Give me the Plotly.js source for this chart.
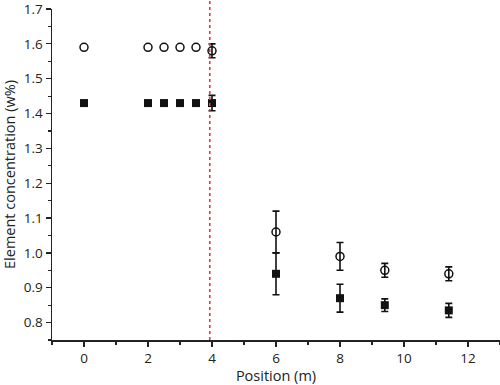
<!DOCTYPE html>
<html><head><meta charset="utf-8">
<script src="https://cdn.plot.ly/plotly-3.0.1.min.js"></script>
<style>html,body{margin:0;padding:0;background:#fff}#chart{width:500px;height:385px}</style>
</head><body><div id="chart"></div>
<script>
const positions = [0, 2, 2.5, 3, 3.5, 4, 6, 8, 9.4, 11.4];
const openValues = [1.59, 1.59, 1.59, 1.59, 1.59, 1.58, 1.06, 0.99, 0.95, 0.94];
const openErrors = [null, null, null, null, null, 0.02, 0.06, 0.04, 0.02, 0.02];
const filledValues = [1.43, 1.43, 1.43, 1.43, 1.43, 1.43, 0.94, 0.87, 0.85, 0.835];
const filledErrors = [null, null, null, null, null, 0.022, 0.06, 0.04, 0.018, 0.02];
const yTicks = [0.8, 0.9, 1.0, 1.1, 1.2, 1.3, 1.4, 1.5, 1.6, 1.7];
const boundaryX = 3.93;

const errStyle = {type:'data', visible:true, color:'#111', thickness:1.6, width:3.5};
function series(vals, errs, marker) {
  const withE = {x:[], y:[], e:[]}, noE = {x:[], y:[]};
  positions.forEach((p, i) => {
    if (errs[i] == null) { noE.x.push(p); noE.y.push(vals[i]); }
    else { withE.x.push(p); withE.y.push(vals[i]); withE.e.push(errs[i]); }
  });
  return [
    {x: noE.x, y: noE.y, type:'scatter', mode:'markers', marker: marker},
    {x: withE.x, y: withE.y, type:'scatter', mode:'markers', marker: marker,
     error_y: Object.assign({array: withE.e}, errStyle)}
  ];
}
const traces = [].concat(
  series(openValues, openErrors, {symbol:'circle-open', size:8, color:'#111', line:{width:1.5, color:'#111'}}),
  series(filledValues, filledErrors, {symbol:'square', size:8, color:'#111'})
);
const fontFam = '"Open Sans", "Noto Sans", sans-serif';
const layout = {
  width:500, height:385, showlegend:false,
  margin:{l:52, r:0, t:9, b:45},
  paper_bgcolor:'#fff', plot_bgcolor:'#fff',
  font:{family:fontFam, size:13.5, color:'#222'},
  xaxis:{range:[-1,13], dtick:2, tick0:0, showgrid:false, zeroline:false,
    showline:true, linecolor:'#222', linewidth:1.5, ticks:'outside', ticklen:5, tickwidth:1.3, tickcolor:'#222',
    minor:{dtick:1, tick0:0, ticks:'outside', ticklen:3, tickwidth:1.2, tickcolor:'#222', showgrid:false},
    title:{text:'Position (m)', font:{size:14.5}, standoff:4}, tickfont:{size:13.5}, ticklabeloverflow:'allow'},
  yaxis:{range:[0.75,1.7], tickmode:'array', tickvals:yTicks, ticktext:yTicks.map(v => v.toFixed(1)),
    showgrid:false, zeroline:false, ticklabeloverflow:'allow',
    showline:true, linecolor:'#222', linewidth:1.5, ticks:'outside', ticklen:5, tickwidth:1.3, tickcolor:'#222',
    minor:{dtick:0.05, tick0:0.75, ticks:'outside', ticklen:3, tickwidth:1.2, tickcolor:'#222', showgrid:false},
    title:{text:'Element concentration (w%)', font:{size:14.5}, standoff:6}, tickfont:{size:13.5}},
  shapes:[{type:'line', xref:'x', yref:'paper', x0:boundaryX, x1:boundaryX, y0:0, y1:1.03,
    line:{color:'#e03c3c', width:1.6, dash:'3px,3px'}}]
};
Plotly.newPlot('chart', traces, layout, {displayModeBar:false, staticPlot:true});
</script></body></html>
